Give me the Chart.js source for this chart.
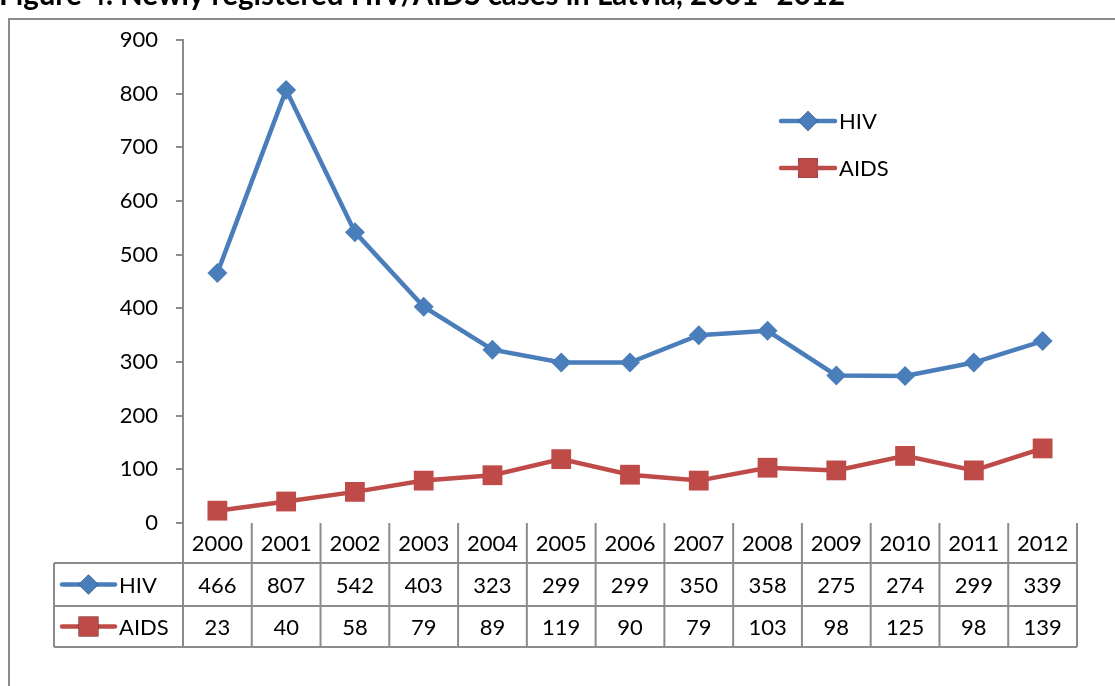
<!DOCTYPE html>
<html>
<head>
<meta charset="utf-8">
<script src="https://cdn.jsdelivr.net/npm/chart.js@4"></script>
<style>
  html, body { margin: 0; padding: 0; background: #fff; }
  #wrap { width: 1115px; height: 686px; position: relative; }
</style>
</head>
<body>
<div id="wrap"><canvas id="chart" width="1115" height="686"></canvas></div>
<script>
const years = ['2000', '2001', '2002', '2003', '2004', '2005', '2006', '2007', '2008', '2009', '2010', '2011', '2012'];
const hivCases = [466, 807, 542, 403, 323, 299, 299, 350, 358, 275, 274, 299, 339];
const aidsCases = [23, 40, 58, 79, 89, 119, 90, 79, 103, 98, 125, 98, 139];
const yTicks = [0, 100, 200, 300, 400, 500, 600, 700, 800, 900];
const chartTitle = 'Figure 4. Newly registered HIV/AIDS cases in Latvia, 2001- 2012';

const FONT = 'Lato, "Liberation Sans", sans-serif';
const GRID = '#8c8c8c';

// frame, cut-off title, right legend and the data table under the plot
const tablePlugin = {
    id: 'excelTable',
    beforeDraw(chart) {
        const ctx = chart.ctx;
        ctx.save();
        ctx.fillStyle = '#fff';
        ctx.fillRect(0, 0, chart.width, chart.height);
        ctx.strokeStyle = GRID;
        ctx.lineWidth = 2;
        ctx.beginPath();
        ctx.moveTo(9, chart.height + 5);
        ctx.lineTo(9, 19);
        ctx.lineTo(chart.width + 5, 19);
        ctx.stroke();
        ctx.fillStyle = '#000';
        ctx.font = 'bold 29.5px ' + FONT;
        ctx.textBaseline = 'alphabetic';
        ctx.fillText(chartTitle, -1, 5, 846);
        ctx.restore();
    },
    afterDraw(chart) {
        const ctx = chart.ctx;
        const xs = chart.scales.x;
        const area = chart.chartArea;
        const colW = (area.right - area.left) / years.length;
        const top = area.bottom;
        const rowH = [40, 43, 41];
        const y1 = top + rowH[0], y2 = y1 + rowH[1], y3 = y2 + rowH[2];
        const keyLeft = 54;

        ctx.save();
        ctx.strokeStyle = GRID;
        ctx.lineWidth = 2;
        ctx.beginPath();
        // horizontal lines
        ctx.moveTo(keyLeft, y1); ctx.lineTo(area.right, y1);
        ctx.moveTo(keyLeft, y2); ctx.lineTo(area.right, y2);
        ctx.moveTo(keyLeft, y3); ctx.lineTo(area.right, y3);
        // vertical lines
        ctx.moveTo(keyLeft, y1); ctx.lineTo(keyLeft, y3);
        for (let i = 0; i <= years.length; i++) {
            const x = area.left + i * colW;
            ctx.moveTo(x, top); ctx.lineTo(x, y3);
        }
        ctx.stroke();

        ctx.fillStyle = '#000';
        ctx.font = '22px ' + FONT;
        ctx.textAlign = 'center';
        ctx.textBaseline = 'middle';
        const rows = [
            { vals: years, y: (top + y1) / 2 + 1 },
            { vals: hivCases, y: (y1 + y2) / 2 + 1 },
            { vals: aidsCases, y: (y2 + y3) / 2 + 1 }
        ];
        rows.forEach(r => {
            r.vals.forEach((v, i) => {
                ctx.fillText(String(v), xs.getPixelForValue(i), r.y);
            });
        });

        // series keys in the table and in the legend
        const drawKey = (ds, x0, x1, y, label) => {
            ctx.strokeStyle = ds.borderColor;
            ctx.lineWidth = 4.5;
            ctx.lineCap = 'round';
            ctx.beginPath();
            ctx.moveTo(x0, y); ctx.lineTo(x1, y);
            ctx.stroke();
            Chart.helpers.drawPoint(ctx, {
                pointStyle: ds.pointStyle,
                radius: ds.pointRadius,
                rotation: 0,
                borderWidth: 0
            }, (x0 + x1) / 2, y);
            ctx.fillStyle = ds.backgroundColor;
            ctx.fill();
            ctx.fillStyle = '#000';
            ctx.textAlign = 'left';
            ctx.fillText(label, x1 + 4, y + 1);
        };
        const sets = chart.data.datasets;
        drawKey(sets[0], 62, 115, (y1 + y2) / 2, sets[0].label);
        drawKey(sets[1], 62, 115, (y2 + y3) / 2, sets[1].label);
        drawKey(sets[0], 781, 835, 121, sets[0].label);
        drawKey(sets[1], 781, 835, 168, sets[1].label);
        ctx.restore();
    }
};

new Chart(document.getElementById('chart').getContext('2d'), {
    type: 'line',
    data: {
        labels: years,
        datasets: [{
            label: 'HIV',
            data: hivCases,
            borderColor: '#4A7EBB',
            backgroundColor: '#4A7EBB',
            borderWidth: 4.5,
            pointStyle: 'rectRot',
            pointRadius: 10,
            pointBorderWidth: 0,
            tension: 0
        }, {
            label: 'AIDS',
            data: aidsCases,
            borderColor: '#BE4B48',
            backgroundColor: '#BE4B48',
            borderWidth: 4.5,
            pointStyle: 'rect',
            pointRadius: 14,
            pointBorderWidth: 0,
            tension: 0
        }]
    },
    options: {
        responsive: false,
        animation: false,
        layout: { padding: { left: 0, top: 40, right: 38, bottom: 163 } },
        scales: {
            x: {
                display: false,
                offset: true
            },
            y: {
                min: 0,
                max: 900,
                afterFit(scale) { scale.width = 183; },
                afterBuildTicks(scale) { scale.ticks = yTicks.map(v => ({ value: v })); },
                border: { color: GRID, width: 2 },
                grid: {
                    drawOnChartArea: false,
                    drawTicks: true,
                    tickLength: 7,
                    color: GRID,
                    lineWidth: 2
                },
                ticks: {
                    color: '#000',
                    padding: 18,
                    font: { family: FONT, size: 22 }
                }
            }
        },
        plugins: {
            legend: { display: false },
            tooltip: { enabled: false },
            title: { display: false }
        }
    },
    plugins: [tablePlugin]
});
</script>
</body>
</html>
